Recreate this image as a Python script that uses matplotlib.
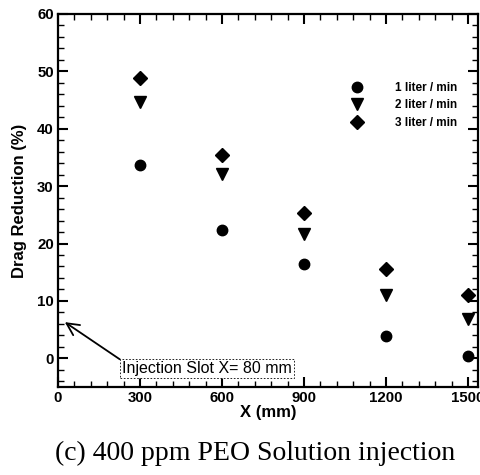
import numpy as np
import matplotlib.pyplot as plt
from matplotlib.ticker import MultipleLocator

# positions (mm) et réduction de traînée (%)
x_pos = [300, 600, 900, 1200, 1500]
dr_1lpm = [33.6, 22.4, 16.4, 3.9, 0.4]
dr_2lpm = [44.7, 32.1, 21.6, 11.1, 6.8]
dr_3lpm = [48.9, 35.5, 25.3, 15.6, 11.0]
labels = ["1 liter / min", "2 liter / min", "3 liter / min"]

plt.rcParams['font.family'] = ['Liberation Sans', 'DejaVu Sans']

fig = plt.figure(figsize=(4.81, 4.75), dpi=100)
ax = fig.add_axes([0.1206, 0.1853, 0.8732, 0.7853])

ax.plot(x_pos, dr_1lpm, 'o', color='black', markersize=7.5, label=labels[0])
ax.plot(x_pos, dr_2lpm, 'v', color='black', markersize=8, label=labels[1])
ax.plot(x_pos, dr_3lpm, 'D', color='black', markersize=7, label=labels[2])

ax.set_xlim(0, 1537)
ax.set_ylim(-5, 60)
ax.xaxis.set_major_locator(MultipleLocator(300))
ax.xaxis.set_minor_locator(MultipleLocator(60))
ax.yaxis.set_major_locator(MultipleLocator(10))
ax.yaxis.set_minor_locator(MultipleLocator(2))
ax.tick_params(which='both', direction='in', top=True, right=True)
ax.tick_params(which='major', length=7, width=1.5, labelsize=10.8, pad=3)
ax.tick_params(which='minor', length=4, width=1)
ax.set_yticks([0, 10, 20, 30, 40, 50, 60])
for lab in ax.get_xticklabels() + ax.get_yticklabels():
    lab.set_fontweight('bold')
for s in ax.spines.values():
    s.set_linewidth(1.6)

ax.set_xlabel("X (mm)", fontsize=12, fontweight='bold', labelpad=0)
ax.set_ylabel("Drag Reduction (%)", fontsize=12, fontweight='bold', labelpad=7)

ax.legend(loc='upper left', bbox_to_anchor=(0.686, 0.831), frameon=False,
          prop={'size': 8.5, 'weight': 'bold'}, handletextpad=2.7,
          labelspacing=0.47, handlelength=1.0, borderaxespad=0)

ax.annotate("Injection Slot X= 80 mm", xy=(25, 6.3), xytext=(234, -1.74),
            fontsize=11.5, va='center', ha='left',
            bbox=dict(boxstyle='square,pad=0.12', fc='white', ec='black',
                      ls=(0, (2, 2)), lw=0.6),
            arrowprops=dict(arrowstyle='->', color='black', lw=1.3,
                            mutation_scale=22, relpos=(0, 1), shrinkA=0,
                            shrinkB=0))

fig.text(0.53, 0.0316, "(c) 400 ppm PEO Solution injection",
         family=['Liberation Serif', 'DejaVu Serif'], fontsize=20,
         ha='center', va='baseline')

fig.savefig("out.png", dpi=100)
